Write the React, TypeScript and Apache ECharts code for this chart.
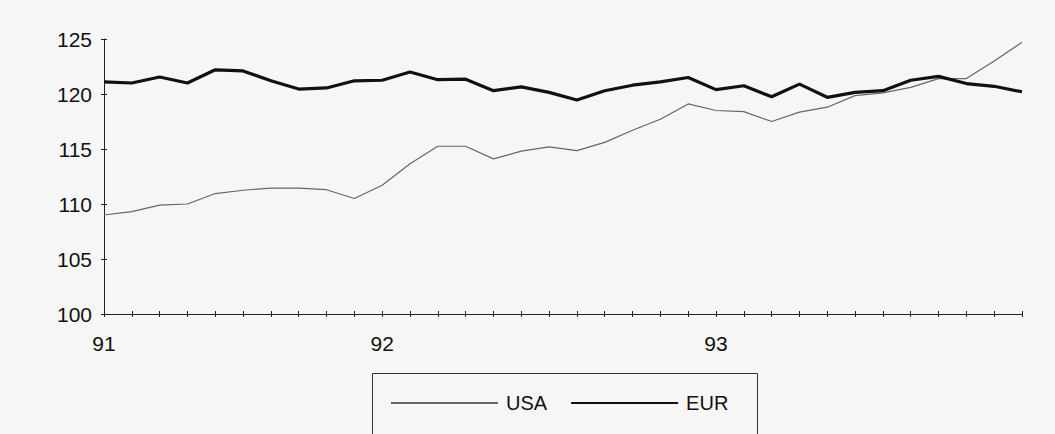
import React, { useEffect, useRef } from "react";
import * as echarts from "echarts";

const months: string[] = [
  "Mar 91", "Apr 91", "May 91", "Jun 91", "Jul 91", "Aug 91", "Sep 91", "Oct 91", "Nov 91", "Dec 91",
  "Jan 92", "Feb 92", "Mar 92", "Apr 92", "May 92", "Jun 92", "Jul 92", "Aug 92", "Sep 92", "Oct 92", "Nov 92", "Dec 92",
  "Jan 93", "Feb 93", "Mar 93", "Apr 93", "May 93", "Jun 93", "Jul 93", "Aug 93", "Sep 93", "Oct 93", "Nov 93", "Dec 93",
];

const usa: number[] = [
  109.0, 109.3, 109.9, 110.0, 110.95, 111.25, 111.45, 111.45, 111.3, 110.5,
  111.7, 113.65, 115.25, 115.25, 114.1, 114.8, 115.2, 114.85, 115.6, 116.7, 117.7, 119.1,
  118.5, 118.4, 117.5, 118.35, 118.8, 119.85, 120.1, 120.6, 121.4, 121.4, 123.0, 124.7,
];

const eur: number[] = [
  121.1, 121.0, 121.55, 121.0, 122.2, 122.1, 121.2, 120.45, 120.55, 121.2,
  121.25, 122.0, 121.3, 121.35, 120.3, 120.65, 120.15, 119.45, 120.3, 120.8, 121.1, 121.5,
  120.4, 120.75, 119.75, 120.9, 119.7, 120.15, 120.3, 121.25, 121.6, 120.95, 120.7, 120.2,
];

const yTicks = { min: 100, max: 125, interval: 5 };

export default function App() {
  const ref = useRef<HTMLDivElement>(null);
  useEffect(() => {
    if (!ref.current) return;
    const chart = echarts.init(ref.current, undefined, { renderer: "svg" });
    const font = "Arial, 'Liberation Sans', sans-serif";
    const isLabel = (i: number) => i === 0 || months[i].startsWith("Jan");
    chart.setOption({
      animation: false,
      backgroundColor: "#f6f6f6",
      grid: { left: 104, right: 33, top: 39, bottom: 120, containLabel: false },
      xAxis: [
        {
          type: "category",
          data: months,
          boundaryGap: false,
          position: "bottom",
          axisLine: { show: true, onZero: false, lineStyle: { color: "#222", width: 1 } },
          axisTick: { show: true, interval: 0, length: 3, lineStyle: { color: "#222" } },
          axisLabel: {
            interval: (i: number) => isLabel(i),
            formatter: (v: string) => v.split(" ")[1],
            color: "#111",
            fontSize: 21,
            fontFamily: font,
            margin: 19,
          },
          splitLine: { show: false },
        },
        {
          type: "category",
          data: months,
          boundaryGap: false,
          position: "bottom",
          axisLine: { show: false, onZero: false },
          axisTick: { show: true, inside: true, interval: 0, length: 3, lineStyle: { color: "#222" } },
          axisLabel: { show: false },
          splitLine: { show: false },
        },
      ],
      yAxis: [
        {
          type: "value",
          min: yTicks.min,
          max: yTicks.max,
          interval: yTicks.interval,
          axisLine: { show: true, onZero: false, lineStyle: { color: "#222", width: 1 } },
          axisTick: { show: true, length: 3, lineStyle: { color: "#222" } },
          axisLabel: { color: "#111", fontSize: 21, fontFamily: font, margin: 12 },
          splitLine: { show: false },
        },
        {
          type: "value",
          min: yTicks.min,
          max: yTicks.max,
          interval: yTicks.interval,
          position: "left",
          axisLine: { show: false, onZero: false },
          axisTick: { show: true, inside: true, length: 3, lineStyle: { color: "#222" } },
          axisLabel: { show: false },
          splitLine: { show: false },
        },
      ],
      legend: {
        left: 390,
        top: 393,
        padding: 0,
        itemWidth: 107,
        itemHeight: 14,
        itemGap: 23,
        itemStyle: { opacity: 0 },
        textStyle: { color: "#111", fontSize: 20, fontFamily: font, padding: [0, 0, 0, 3] },
        data: ["USA", "EUR"],
      },
      graphic: [
        {
          type: "rect",
          shape: { x: 372.5, y: 373.5, width: 385, height: 80 },
          style: { fill: "none", stroke: "#333", lineWidth: 1 },
          silent: true,
        },
      ],
      series: [
        {
          name: "USA",
          type: "line",
          data: usa,
          symbol: "none",
          lineStyle: { color: "#666", width: 1.2 },
          itemStyle: { color: "#666" },
        },
        {
          name: "EUR",
          type: "line",
          data: eur,
          symbol: "none",
          lineStyle: { color: "#111", width: 3.2 },
          itemStyle: { color: "#111" },
        },
      ],
    });
    return () => chart.dispose();
  }, []);
  return (
    <div
      ref={ref}
      style={{ position: "fixed", left: 0, top: 0, width: 1055, height: 434 }}
    />
  );
}
